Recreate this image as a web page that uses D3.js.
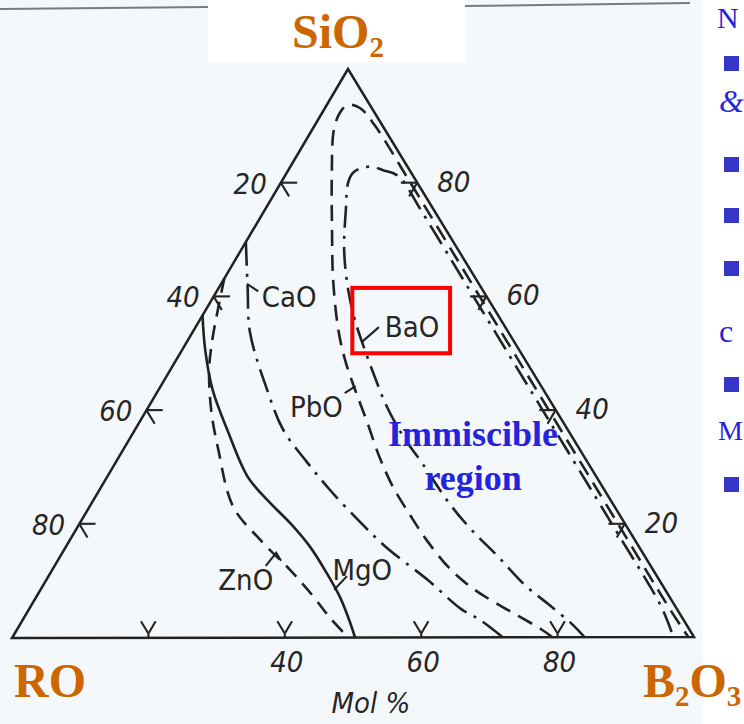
<!DOCTYPE html>
<html>
<head>
<meta charset="utf-8">
<script src="https://cdn.jsdelivr.net/npm/d3@7"></script>
<style>
  html, body { margin: 0; padding: 0; background: #ffffff; }
  svg { display: block; }
  .hand { font-family: "Liberation Sans Narrow", "DejaVu Sans Condensed", sans-serif; fill: #262626; }
  .num { font-style: italic; }
  .oxide { font-family: "Liberation Serif", "Times New Roman", serif; font-weight: bold; fill: #cc6600; }
  .blue { font-family: "Liberation Serif", "Times New Roman", serif; fill: #2424dd; }
</style>
</head>
<body>
<div id="chart"></div>
<script>
// Immiscibility boundaries in RO-B2O3-SiO2 glasses
// every point is [SiO2, RO, B2O3] in mol %

const mgoCurve = [
  [56.7, 43.3, 0], [50.6, 46.0, 3.4], [43.5, 48.5, 8.0], [36.5, 49.9, 13.6],
  [28.3, 51.1, 20.6], [24.2, 50.3, 25.5], [20.1, 49.0, 30.9], [15.9, 48.2, 35.9],
  [11.4, 48.1, 40.5], [7.1, 48.3, 44.6], [2.6, 49.1, 48.3], [0, 49.7, 50.3]
];

const znoCurve = [
  [63.2, 36.8, 0], [57.6, 40.6, 1.8], [52.3, 44.1, 3.6], [47.1, 47.2, 5.7],
  [40.0, 50.5, 9.5], [33.0, 53.0, 14.0], [23.0, 55.9, 21.1], [17.2, 54.9, 27.9],
  [11.9, 53.2, 34.9], [7.5, 52.2, 40.3], [3.4, 51.6, 45.0], [0, 50.7, 49.3]
];

const caoCurve = [
  [69.6, 30.4, 0], [61.6, 34.2, 4.2], [53.6, 37.9, 8.5], [43.5, 40.5, 16.0],
  [36.5, 41.7, 21.8], [30.9, 41.1, 28.0], [25.9, 40.2, 33.9], [19.8, 38.5, 41.7],
  [15.7, 37.0, 47.3], [10.1, 33.9, 56.0], [5.0, 31.6, 63.4], [3.1, 29.8, 67.1],
  [0, 28.0, 72.0]
];

const pboCurve = [
  [0, 20.7, 79.3], [1.5, 21.7, 76.8], [4.8, 24.8, 70.4], [8.4, 27.9, 63.7],
  [11.9, 29.6, 58.5], [17.0, 30.5, 52.5], [21.5, 30.7, 47.8], [26.5, 30.7, 42.8],
  [31.8, 30.0, 38.2], [37.9, 28.7, 33.4], [43.5, 27.6, 28.9], [48.8, 26.4, 24.8],
  [54.1, 24.7, 21.2], [62.9, 21.0, 16.1], [71.7, 16.7, 11.6], [82.2, 11.4, 6.4],
  [89.3, 7.5, 3.2], [92.4, 5.0, 2.6], [93.7, 3.2, 3.1], [93.1, 1.7, 5.2],
  [90.0, 1.1, 8.9], [80.0, 1.0, 19.0], [60.0, 1.0, 39.0], [40.0, 1.0, 59.0],
  [20.0, 1.0, 79.0], [5.0, 1.0, 94.0], [0, 0.8, 99.2]
];

const baoCurve = [
  [0, 16.0, 84.0], [2.4, 16.7, 80.9], [5.7, 18.3, 76.0], [9.2, 20.1, 70.7],
  [14.2, 21.5, 64.3], [18.9, 23.0, 58.1], [23.5, 23.9, 52.6], [30.7, 24.3, 45.0],
  [35.6, 24.7, 39.7], [40.9, 24.4, 34.7], [45.6, 23.6, 30.8], [50.6, 22.6, 26.8],
  [55.8, 21.4, 22.8], [61.1, 19.7, 19.2], [68.2, 16.7, 15.1], [75.2, 12.9, 11.9],
  [79.9, 10.2, 9.9], [81.7, 8.6, 9.7], [82.6, 6.8, 10.6], [82.8, 5.1, 12.1],
  [82.2, 3.9, 13.9], [81.7, 2.7, 15.6], [80.8, 2.0, 17.2], [75.0, 1.9, 23.1],
  [60.0, 1.9, 38.1], [40.0, 1.9, 58.1], [20.0, 1.9, 78.1], [6.0, 2.0, 92.0],
  [3.0, 2.4, 94.6], [0, 3.0, 97.0]
];

const tickValues = [20, 40, 60, 80];
const leftTickLabels = ['20', '40', '60', '80'];     // RO along the left edge
const rightTickLabels = ['20', '40', '60', '80'];    // SiO2 along the right edge
const bottomTickLabels = ['', '40', '60', '80'];     // B2O3 along the base

const curveNames = ['MgO', 'ZnO', 'CaO', 'PbO', 'BaO'];
const labelAt = [[10.1, 47.9, 42.0], [8.4, 65.5, 26.1], [58.1, 33.9, 8.0], [38.8, 31.8, 29.4], [52.9, 18.5, 28.6]];
const leaderPath = [
  [[10.8, 45.4, 43.8], [8.4, 48.5, 43.1]],
  [[12.6, 56.4, 31.0], [14.9, 53.7, 31.4], [13.5, 53.7, 32.8]],
  [[60.9, 33.0, 6.1], [62.2, 34.0, 3.8]],
  [[43.0, 29.4, 27.6], [44.2, 27.2, 28.6]],
  [[54.6, 18.5, 26.9], [52.0, 22.3, 25.7]]
];
const regionLabel = [33.7, 15.3, 51.0];
const highlightBox = [[61.5, 18.9, 19.6], [50.0, 10.4, 39.6]];

// ---- layout ----
const width = 744, height = 724;
const apex = [348, 69], leftV = [12, 638], rightV = [694, 637];

const svg = d3.select('#chart').append('svg')
  .attr('width', width).attr('height', height);

// scanned page and slide pieces
svg.append('rect').attr('x', 0).attr('y', 0).attr('width', 703).attr('height', height).attr('fill', '#f5f8fa');
svg.append('line').attr('x1', 0).attr('y1', 9).attr('x2', 208).attr('y2', 7).attr('stroke', '#7a7a7a').attr('stroke-width', 2);
svg.append('line').attr('x1', 465).attr('y1', 6).attr('x2', 690).attr('y2', 3).attr('stroke', '#7a7a7a').attr('stroke-width', 2);
svg.append('rect').attr('x', 208).attr('y', 0).attr('width', 257).attr('height', 62).attr('fill', '#ffffff');

// ternary projection built from linear scales
const rowY = d3.scaleLinear().domain([0, 100]).range([637.5, apex[1]]);
const rowLeft = d3.scaleLinear().domain([0, 100]).range([leftV[0], apex[0]]);
const rowRight = d3.scaleLinear().domain([0, 100]).range([rightV[0], apex[0]]);
function proj(p) {
  const [s, r, b] = p;
  const xl = rowLeft(s), xr = rowRight(s);
  const t = (r + b) === 0 ? 0 : b / (r + b);
  return [xl + t * (xr - xl), rowY(s)];
}

const ink = '#222222';
const g = svg.append('g');

// triangle
g.append('path')
  .attr('d', 'M' + [apex, leftV, rightV].map(p => p.join(',')).join('L') + 'Z')
  .attr('fill', 'none').attr('stroke', ink).attr('stroke-width', 2.5).attr('stroke-linejoin', 'miter');

// ticks: arms follow the grid lines into the triangle
const d = 2.4;
const tickG = g.append('g').attr('stroke', ink).attr('stroke-width', 2.1).attr('fill', 'none');
tickValues.forEach((v, i) => {
  const pl = [100 - v, v, 0];
  [[100 - v, v - d, d], [100 - v - d, v, d]].forEach(q => {
    tickG.append('line').attr('x1', proj(pl)[0]).attr('y1', proj(pl)[1]).attr('x2', proj(q)[0]).attr('y2', proj(q)[1]);
  });
  const pr = [v, 0, 100 - v];
  [[v, d, 100 - v - d], [v - d, d, 100 - v]].forEach(q => {
    tickG.append('line').attr('x1', proj(pr)[0]).attr('y1', proj(pr)[1]).attr('x2', proj(q)[0]).attr('y2', proj(q)[1]);
  });
  const pb = [0, 100 - v, v];
  const [bx, by] = proj(pb);
  tickG.append('line').attr('x1', bx).attr('y1', by).attr('x2', bx).attr('y2', by - 4);
  [[d * 0.9, 100 - v - d * 0.9, v], [d * 0.9, 100 - v, v - d * 0.9]].forEach(q => {
    const [qx, qy] = proj(q);
    tickG.append('line').attr('x1', bx).attr('y1', by - 4).attr('x2', qx).attr('y2', qy - 4);
  });

  g.append('text').attr('class', 'hand num')
    .attr('x', proj(pl)[0] - 14).attr('y', proj(pl)[1] + 11)
    .attr('text-anchor', 'end').attr('font-size', 29).text(leftTickLabels[i]);
  g.append('text').attr('class', 'hand num')
    .attr('x', proj(pr)[0] + 20).attr('y', proj(pr)[1] + 9)
    .attr('text-anchor', 'start').attr('font-size', 29).text(rightTickLabels[i]);
  g.append('text').attr('class', 'hand num')
    .attr('x', bx + 2).attr('y', 672)
    .attr('text-anchor', 'middle').attr('font-size', 29).text(bottomTickLabels[i]);
});

// boundary curves
const styles = { MgO: null, ZnO: '15 9', CaO: '24 8 3 8', PbO: '16 9', BaO: '22 8 3 8' };
const curveData = { MgO: mgoCurve, ZnO: znoCurve, CaO: caoCurve, PbO: pboCurve, BaO: baoCurve };
const line = d3.line().curve(d3.curveCatmullRom.alpha(0.5));

curveNames.forEach((name, i) => {
  g.append('path')
    .attr('d', line(curveData[name].map(proj)))
    .attr('fill', 'none').attr('stroke', ink).attr('stroke-width', 2.6)
    .attr('stroke-dasharray', styles[name]);

  g.append('path')
    .attr('d', d3.line()(leaderPath[i].map(proj)))
    .attr('fill', 'none').attr('stroke', ink).attr('stroke-width', 2.1);

  const [lx, ly] = proj(labelAt[i]);
  g.append('text').attr('class', 'hand')
    .attr('x', lx).attr('y', ly)
    .attr('text-anchor', name === 'PbO' ? 'end' : 'start')
    .attr('font-size', 29).text(name);
});

// axis caption
g.append('text').attr('class', 'hand num')
  .attr('x', 371).attr('y', 713).attr('text-anchor', 'middle')
  .attr('font-size', 29).text('Mol %');

// highlight box
const [b0, b1] = highlightBox.map(proj);
svg.append('rect')
  .attr('x', b0[0]).attr('y', b0[1])
  .attr('width', b1[0] - b0[0]).attr('height', b1[1] - b0[1])
  .attr('fill', 'none').attr('stroke', '#ff0000').attr('stroke-width', 4);

// region label
const [rx, ry] = proj(regionLabel);
const reg = svg.append('text').attr('class', 'blue')
  .attr('x', rx).attr('y', ry).attr('text-anchor', 'middle')
  .attr('font-size', 36).attr('font-weight', 'bold').attr('fill', '#3333f0');
reg.append('tspan').attr('x', rx).text('Immiscible');
reg.append('tspan').attr('x', rx).attr('dy', 44).text('region');

// corner oxides
function oxide(x, y, parts) {
  const t = svg.append('text').attr('class', 'oxide').attr('x', x).attr('y', y).attr('font-size', 48);
  parts.forEach(([txt, sub]) => {
    const s = t.append('tspan').text(txt);
    if (sub) s.attr('font-size', 29).attr('dy', 9);
    else s.attr('dy', t.selectAll('tspan').size() > 1 ? -9 : 0);
  });
}
oxide(292, 48, [['SiO', false], ['2', true]]);
oxide(14, 697, [['RO', false]]);
oxide(643, 697, [['B', false], ['2', true], ['O', false], ['3', true]]);

// slide text peeking in at the right
const bulletsY = [56, 157, 208, 261, 377, 477];
bulletsY.forEach(y => {
  svg.append('rect').attr('x', 724).attr('y', y).attr('width', 15).attr('height', 15).attr('fill', '#3535c8');
});
[['N', 28, 'normal', 30, 717], ['&', 112, 'italic', 32, 719], ['c', 342, 'normal', 32, 719], ['M', 440, 'normal', 28, 718]].forEach(([t, y, st, fs, x]) => {
  svg.append('text').attr('class', 'blue').attr('x', x).attr('y', y)
    .attr('font-size', fs).attr('font-style', st).text(t);
});
</script>
</body>
</html>
